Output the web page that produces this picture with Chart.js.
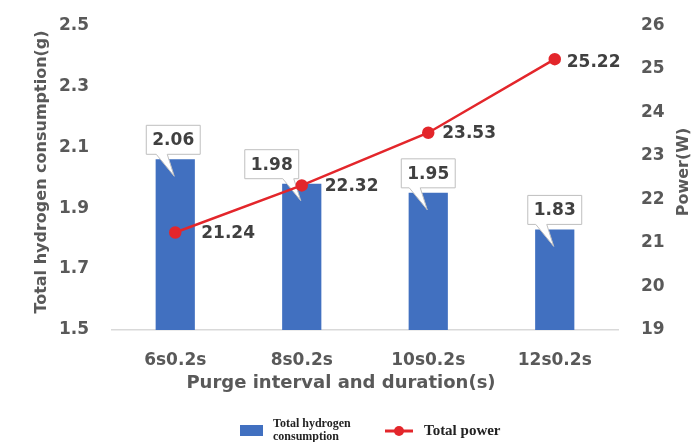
<!DOCTYPE html>
<html>
<head>
<meta charset="utf-8">
<script src="https://cdn.jsdelivr.net/npm/chart.js@4.4.1/dist/chart.umd.min.js"></script>
<style>
  html, body { margin: 0; padding: 0; background: #ffffff; }
  #wrap { width: 699px; height: 442px; position: relative; }
</style>
</head>
<body>
<div id="wrap"><canvas id="c" width="699" height="442"></canvas></div>
<script>
// Purge interval / duration settings
const categories = ['6s0.2s', '8s0.2s', '10s0.2s', '12s0.2s'];
// Total hydrogen consumption (g)
const hydrogenConsumption = [2.06, 1.98, 1.95, 1.83];
// Total power (W)
const totalPower = [21.24, 22.32, 23.53, 25.22];
// Axis ticks
const leftTicks = [1.5, 1.7, 1.9, 2.1, 2.3, 2.5];
const rightTicks = [19, 20, 21, 22, 23, 24, 25, 26];

const FONT = '"DejaVu Sans", sans-serif';
const TICK_COLOR = '#595959';
const LABEL_COLOR = '#404040';
const BAR_COLOR = '#4170C0';
const LINE_COLOR = '#E3262B';

// callout box horizontal shift per bar (keeps the 8s box clear of the line)
const calloutShift = [-2, -30, 0, 0];
// power label placement relative to its point
const powerLabelDx = [26, 23, 14, 12];
const powerLabelDy = [1, 1, 1, 3];

const annotate = {
  id: 'annotate',
  afterDatasetDraw(chart, args) {
    if (args.index !== 0) return;
    const ctx = chart.ctx;
    const meta = chart.getDatasetMeta(0);
    ctx.save();
    ctx.font = 'bold 17px ' + FONT;
    meta.data.forEach((bar, i) => {
      const text = hydrogenConsumption[i].toFixed(2);
      const w = ctx.measureText(text).width + 12;
      const h = 29;
      const cx = bar.x + calloutShift[i];
      const bottom = bar.y - 5;
      const left = cx - w / 2, right = cx + w / 2, top = bottom - h;
      const tipX = bar.x - 1, tipY = bar.y + 17;
      let b1 = Math.max(left + 4, tipX - 18);
      let b2 = Math.min(right - 4, tipX - 7);
      if (b2 - b1 < 8) { b1 = b2 - 10; }
      ctx.beginPath();
      ctx.moveTo(left, top);
      ctx.lineTo(right, top);
      ctx.lineTo(right, bottom);
      ctx.lineTo(b2, bottom);
      ctx.lineTo(tipX, tipY);
      ctx.lineTo(b1, bottom);
      ctx.lineTo(left, bottom);
      ctx.closePath();
      ctx.fillStyle = '#ffffff';
      ctx.fill();
      ctx.strokeStyle = '#bfbfbf';
      ctx.lineWidth = 1;
      ctx.stroke();
      ctx.fillStyle = LABEL_COLOR;
      ctx.textAlign = 'center';
      ctx.textBaseline = 'middle';
      ctx.fillText(text, cx, top + h / 2 + 1);
    });
    ctx.restore();
  },
  afterDatasetsDraw(chart) {
    const ctx = chart.ctx;
    const meta = chart.getDatasetMeta(1);
    ctx.save();
    ctx.font = 'bold 17px ' + FONT;
    ctx.fillStyle = LABEL_COLOR;
    ctx.textAlign = 'left';
    ctx.textBaseline = 'middle';
    meta.data.forEach((pt, i) => {
      ctx.fillText(totalPower[i].toFixed(2), pt.x + powerLabelDx[i], pt.y + powerLabelDy[i]);
    });
    ctx.restore();
  },
  afterDraw(chart) {
    const ctx = chart.ctx;
    ctx.save();
    ctx.fillStyle = TICK_COLOR;
    ctx.textAlign = 'center';
    ctx.textBaseline = 'middle';
    // left axis title
    ctx.font = 'bold 16px ' + FONT;
    ctx.save();
    ctx.translate(42, 172);
    ctx.rotate(-Math.PI / 2);
    ctx.fillText('Total hydrogen consumption(g)', 0, 0);
    ctx.restore();
    // right axis title
    ctx.save();
    ctx.translate(684, 172);
    ctx.rotate(-Math.PI / 2);
    ctx.fillText('Power(W)', 0, 0);
    ctx.restore();
    // x axis title
    ctx.font = 'bold 18px ' + FONT;
    ctx.fillText('Purge interval and duration(s)', 341, 383);

    // legend
    ctx.fillStyle = BAR_COLOR;
    ctx.fillRect(240, 425, 23, 11);
    ctx.fillStyle = '#222222';
    ctx.textAlign = 'left';
    ctx.font = 'bold 12px "Liberation Serif", serif';
    ctx.fillText('Total hydrogen', 273, 424);
    ctx.fillText('consumption', 273, 437);
    ctx.strokeStyle = LINE_COLOR;
    ctx.lineWidth = 3;
    ctx.beginPath();
    ctx.moveTo(385, 431);
    ctx.lineTo(413, 431);
    ctx.stroke();
    ctx.fillStyle = LINE_COLOR;
    ctx.beginPath();
    ctx.arc(399, 431, 5, 0, Math.PI * 2);
    ctx.fill();
    ctx.fillStyle = '#222222';
    ctx.font = 'bold 15px "Liberation Serif", serif';
    ctx.fillText('Total power', 424, 431);
    ctx.restore();
  }
};

new Chart(document.getElementById('c'), {
  data: {
    labels: categories,
    datasets: [
      {
        type: 'bar',
        label: 'Total hydrogen consumption',
        data: hydrogenConsumption,
        yAxisID: 'y',
        backgroundColor: BAR_COLOR,
        barPercentage: 0.31,
        categoryPercentage: 1,
        order: 1
      },
      {
        type: 'line',
        label: 'Total power',
        data: totalPower,
        yAxisID: 'y1',
        borderColor: LINE_COLOR,
        backgroundColor: LINE_COLOR,
        borderWidth: 2.5,
        pointRadius: 5,
        pointHoverRadius: 5,
        pointBackgroundColor: LINE_COLOR,
        pointBorderColor: LINE_COLOR,
        tension: 0,
        order: 0
      }
    ]
  },
  options: {
    responsive: false,
    animation: false,
    devicePixelRatio: 1,
    layout: { padding: { top: 18, left: 0, right: 0, bottom: 0 } },
    plugins: {
      legend: { display: false },
      tooltip: { enabled: false }
    },
    scales: {
      x: {
        grid: { display: false },
        border: { display: true, color: '#d9d9d9', width: 1.5 },
        ticks: {
          color: TICK_COLOR,
          font: { family: FONT, size: 17, weight: 'bold' },
          padding: 12,
          maxRotation: 0
        },
        afterFit(scale) { scale.height = 112; }
      },
      y: {
        position: 'left',
        min: 1.5,
        max: 2.5,
        grid: { display: false },
        border: { display: false },
        afterBuildTicks(scale) { scale.ticks = leftTicks.map(v => ({ value: v })); },
        ticks: {
          color: TICK_COLOR,
          font: { family: FONT, size: 17, weight: 'bold' },
          padding: 15,
          callback: v => Number(v).toFixed(1)
        },
        afterFit(scale) { scale.width = 112; }
      },
      y1: {
        position: 'right',
        min: 19,
        max: 26,
        grid: { display: false },
        border: { display: false },
        afterBuildTicks(scale) { scale.ticks = rightTicks.map(v => ({ value: v })); },
        ticks: {
          color: TICK_COLOR,
          font: { family: FONT, size: 17, weight: 'bold' },
          padding: 15,
          callback: v => String(v)
        },
        afterFit(scale) { scale.width = 81; }
      }
    }
  },
  plugins: [annotate]
});
</script>
</body>
</html>
